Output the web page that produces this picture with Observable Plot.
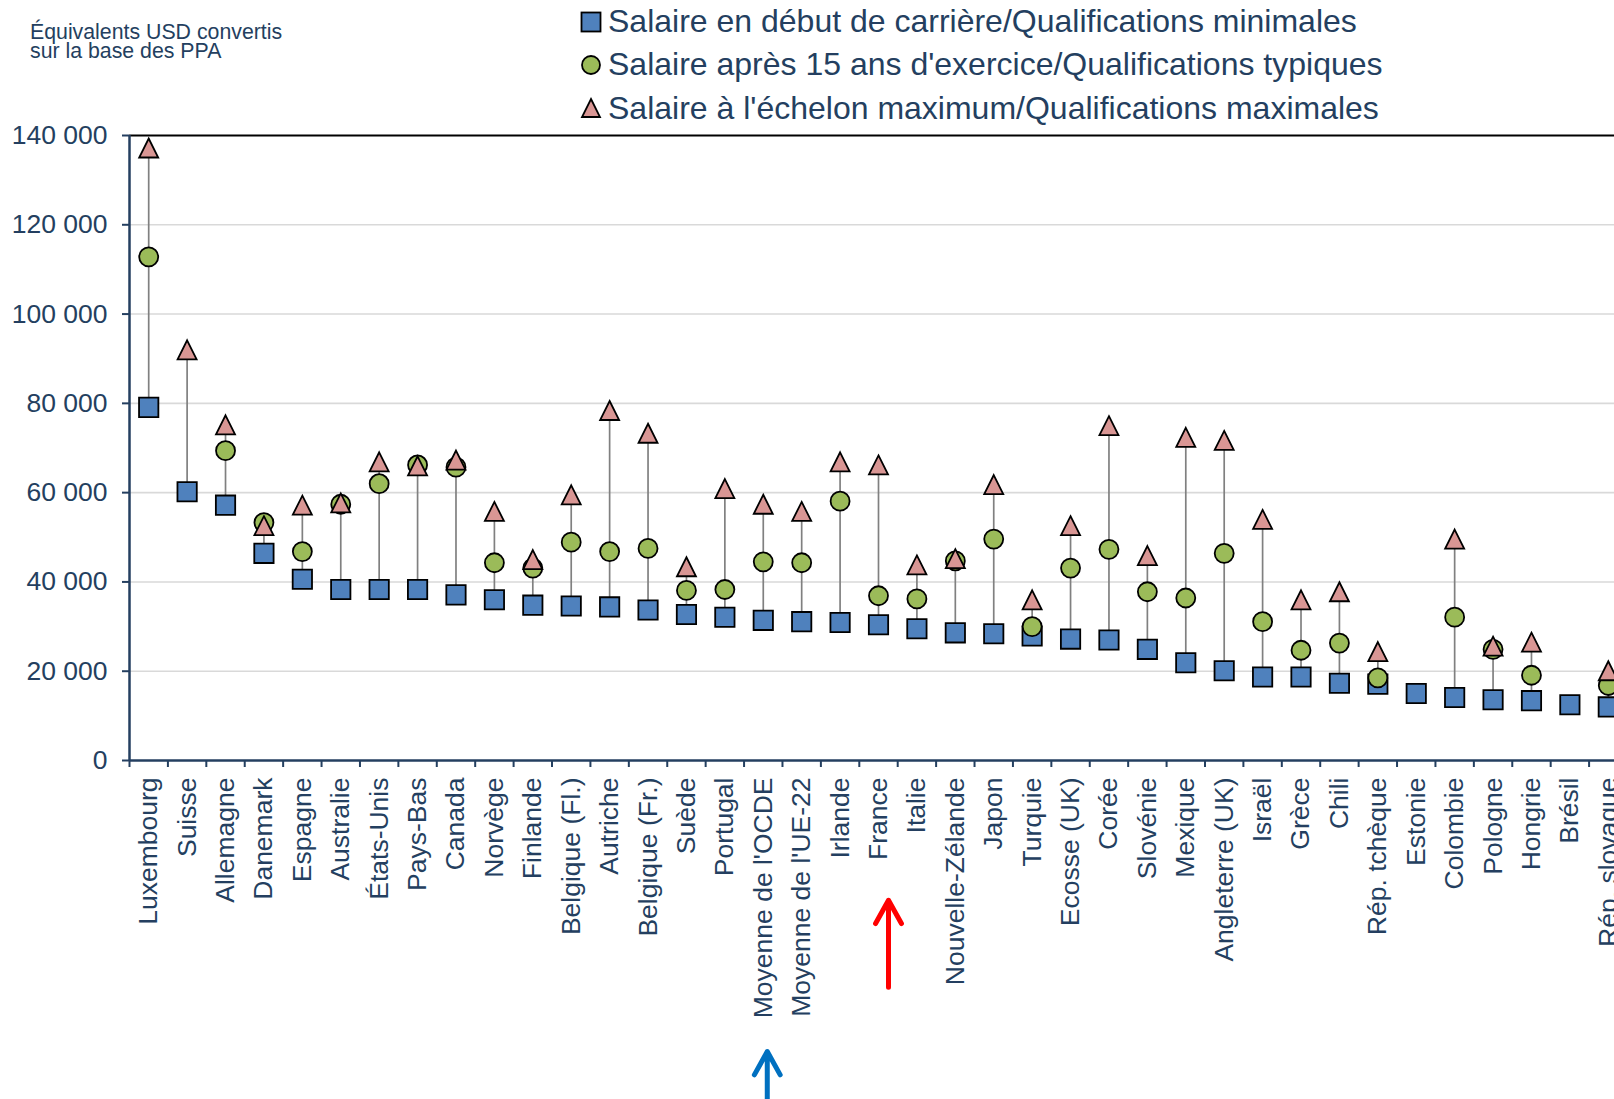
<!DOCTYPE html>
<html>
<head>
<meta charset="utf-8">
<script src="https://cdn.jsdelivr.net/npm/d3@7"></script>
<script src="https://cdn.jsdelivr.net/npm/@observablehq/plot@0.6"></script>
<style>
  html, body { margin: 0; padding: 0; overflow: hidden; background: #fff; }
  body { width: 1614px; height: 1099px; position: relative; font-family: "Liberation Sans", Arial, sans-serif; color: #243F60; }
  #header { position: relative; height: 120px; }
  #note { position: absolute; left: 30px; top: 23px; font-size: 21.3px; line-height: 18.5px; }
  #legend { position: absolute; left: 580px; top: 0; }
  .item { position: absolute; left: 0; white-space: nowrap; font-size: 32px; height: 43px; display: flex; align-items: center; }
  .item svg { margin-right: 6px; }
  #chart svg { max-width: none !important; display: block; }
</style>
</head>
<body>
<div id="header">
  <div id="note">Équivalents USD convertis<br>sur la base des PPA</div>
  <div id="legend"></div>
</div>
<div id="chart"></div>
<script>
// ---- Data (USD PPA equivalents) ----
const categories = ["Luxembourg","Suisse","Allemagne","Danemark","Espagne","Australie","États-Unis","Pays-Bas","Canada","Norvège","Finlande","Belgique (Fl.)","Autriche","Belgique (Fr.)","Suède","Portugal","Moyenne de l'OCDE","Moyenne de l'UE-22","Irlande","France","Italie","Nouvelle-Zélande","Japon","Turquie","Ecosse (UK)","Corée","Slovénie","Mexique","Angleterre (UK)","Israël","Grèce","Chili","Rép. tchèque","Estonie","Colombie","Pologne","Hongrie","Brésil","Rép. slovaque"];
const debut   = [79100,60200,57200,46400,40600,38300,38300,38300,37100,36000,34800,34600,34400,33700,32700,32100,31400,31100,30900,30400,29500,28600,28400,27900,27200,27000,24900,21900,20100,18700,18700,17300,17100,15000,14100,13600,13400,12500,12000];
const quinze  = [112800,null,69400,53300,46800,57400,62000,66200,65700,44300,43100,48900,46800,47500,38100,38300,44500,44300,58100,36900,36200,44700,49600,30000,43100,47300,37800,36400,46400,31100,24700,26300,18500,null,32100,24900,19100,null,16800];
const maximum = [137200,92000,75200,52600,57200,57700,66900,66000,67300,55800,45000,59500,78400,73300,43400,60900,57400,55800,66900,66200,43800,45200,61800,36000,52600,75000,45900,72400,71700,54000,36000,37800,24400,null,49600,25600,26500,null,20100];
const yTicks = [0,20000,40000,60000,80000,100000,120000,140000];
const gridTicks = [20000,40000,60000,80000,100000,120000];
const seriesNames = ["Salaire en début de carrière/Qualifications minimales","Salaire après 15 ans d'exercice/Qualifications typiques","Salaire à l'échelon maximum/Qualifications maximales"];
const arrowNotes = [
  {category: "Moyenne de l'OCDE", from: -86000, to: -65200, color: "#0070C0"},
  {category: "France", from: -50800, to: -31300, color: "#FF0000"}
];

// ---- Styles ----
const NAVY = "#243F60";
const C_SQ = "#4F81BD", C_CI = "#9BBB59", C_TR = "#D99694";

const rows = categories.map((c, i) => ({c, debut: debut[i], quinze: quinze[i], maximum: maximum[i]}));
const rangeRows = rows.map(d => {
  const v = [d.debut, d.quinze, d.maximum].filter(x => x != null);
  return {c: d.c, lo: d3.min(v), hi: d3.max(v), n: v.length};
}).filter(d => d.n > 1);

const triangle = {
  draw(ctx, size) {
    const h = Math.sqrt(size / Math.PI);
    ctx.moveTo(0, -h); ctx.lineTo(h, h); ctx.lineTo(-h, h); ctx.closePath();
  }
};

const width = 1660, marginLeft = 129, marginRight = 33;
const bw = (width - marginLeft - marginRight) / categories.length;
const fmt = d => d3.format(",")(d).replace(/,/g, " ");

const plot = Plot.plot({
  width,
  height: 979,
  marginLeft,
  marginRight,
  marginTop: 15,
  marginBottom: 339,
  style: {fontFamily: "'Liberation Sans', Arial, sans-serif", color: NAVY, background: "#fff", overflow: "hidden"},
  x: {type: "band", domain: categories, padding: 0, round: false, axis: null},
  y: {domain: [0, 140000], axis: null},
  marks: [
    Plot.ruleY(gridTicks, {stroke: "#D9D9D9", strokeWidth: 1.6}),
    Plot.ruleX(rangeRows, {x: "c", y1: "lo", y2: "hi", stroke: "#808080", strokeWidth: 1.7}),
    Plot.dot(rows.filter(d => d.debut != null), {x: "c", y: "debut", symbol: "square", r: 10.9, fill: C_SQ, stroke: "#000", strokeWidth: 1.8}),
    Plot.dot(rows.filter(d => d.quinze != null), {x: "c", y: "quinze", symbol: "circle", r: 9.5, fill: C_CI, stroke: "#000", strokeWidth: 1.8}),
    Plot.dot(rows.filter(d => d.maximum != null), {x: "c", y: "maximum", symbol: triangle, r: 9.5, fill: C_TR, stroke: "#000", strokeWidth: 1.8}),
    Plot.ruleY([140000], {stroke: "#000", strokeWidth: 2}),
    Plot.ruleY([0], {stroke: NAVY, strokeWidth: 2.5}),
    Plot.ruleX([categories[0]], {y1: 0, y2: 140000, dx: -bw / 2, stroke: NAVY, strokeWidth: 2.5}),
    Plot.axisY({ticks: yTicks, tickSize: 7, tickPadding: 15, tickFormat: fmt, fontSize: 26.5, color: NAVY, strokeWidth: 2, label: null}),
    Plot.axisX({tickSize: 7, tickFormat: () => "", dx: -bw / 2, color: NAVY, strokeWidth: 2, label: null}),
    Plot.axisX({tickSize: 0, tickPadding: 17, tickRotate: -90, fontSize: 26.5, color: NAVY, label: null}),
    Plot.arrow(arrowNotes.filter(d => d.category === "France"), {x: "category", y1: "from", y2: "to", stroke: "color", strokeWidth: 5, headLength: 8, headAngle: 58, strokeLinecap: "round", dx: 10}),
    Plot.arrow(arrowNotes.filter(d => d.category !== "France"), {x: "category", y1: "from", y2: "to", stroke: "color", strokeWidth: 5, headLength: 8, headAngle: 58, strokeLinecap: "round", dx: 4})
  ]
});
plot.style.maxWidth = "none";
document.getElementById("chart").appendChild(plot);

// ---- Legend ----
const legend = document.getElementById("legend");
const markerSvgs = [
  `<svg width="22" height="22"><rect x="1.5" y="1.5" width="19" height="19" fill="${C_SQ}" stroke="#000" stroke-width="1.8"/></svg>`,
  `<svg width="22" height="22"><circle cx="11" cy="11" r="9" fill="${C_CI}" stroke="#000" stroke-width="1.8"/></svg>`,
  `<svg width="22" height="22"><path d="M11,2 L20,20 L2,20 Z" fill="${C_TR}" stroke="#000" stroke-width="1.8"/></svg>`
];
const centers = [21.5, 64.5, 108];
seriesNames.forEach((name, i) => {
  const div = document.createElement("div");
  div.className = "item";
  div.style.top = (centers[i] - 21.5) + "px";
  div.innerHTML = markerSvgs[i] + `<span>${name}</span>`;
  legend.appendChild(div);
});
</script>
</body>
</html>
